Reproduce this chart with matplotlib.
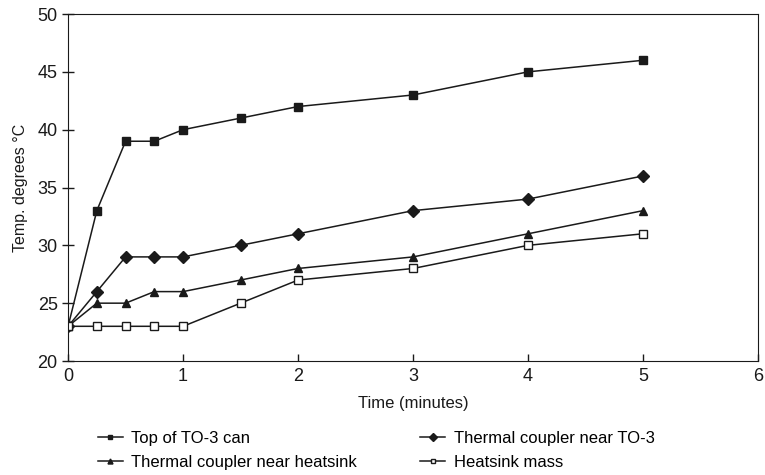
import matplotlib
matplotlib.use("Agg")
import matplotlib.pyplot as plt

plt.rcParams['font.family'] = ['Liberation Sans', 'DejaVu Sans']

time_min = [0, 0.25, 0.5, 0.75, 1, 1.5, 2, 3, 4, 5]
top_can = [23, 33, 39, 39, 40, 41, 42, 43, 45, 46]
near_to3 = [23, 26, 29, 29, 29, 30, 31, 33, 34, 36]
near_heatsink = [23, 25, 25, 26, 26, 27, 28, 29, 31, 33]
heatsink_mass = [23, 23, 23, 23, 23, 25, 27, 28, 30, 31]

fig = plt.figure(figsize=(7.65, 4.75), dpi=100)
ax = fig.add_axes([0.089, 0.24, 0.902, 0.7305])

c = '#1a1a1a'
l1, = ax.plot(time_min, top_can, '-s', color=c, lw=1.1, ms=6, label='Top of TO-3 can')
l2, = ax.plot(time_min, near_to3, '-D', color=c, lw=1.1, ms=6.5, label='Thermal coupler near TO-3')
l3, = ax.plot(time_min, near_heatsink, '-^', color=c, lw=1.1, ms=6, label='Thermal coupler near heatsink')
l4, = ax.plot(time_min, heatsink_mass, '-s', color=c, lw=1.1, ms=6, mfc='white', mew=1,
              label='Heatsink mass')

ax.set_xlim(0, 6)
ax.set_ylim(20, 50)
ax.set_xticks(range(0, 7))
ax.set_yticks(range(20, 51, 5))
ax.tick_params(labelsize=13, colors=c, length=5, width=1)
ax.tick_params(axis='x', direction='in', pad=5)
ax.tick_params(axis='y', direction='inout', length=8)
for s in ax.spines.values():
    s.set_color(c)
ax.set_xlabel('Time (minutes)', fontsize=12, color=c, labelpad=8)
ax.set_ylabel('Temp. degrees °C', fontsize=11.5, color=c, labelpad=7)

# column-wise fill, so order gives rows: top / near TO-3, near heatsink / mass
fig.legend([l1, l3, l2, l4], [l.get_label() for l in [l1, l3, l2, l4]],
           loc='upper left', bbox_to_anchor=(0.117, 0.111), ncol=2, frameon=False,
           fontsize=12, borderpad=0, handlelength=1.5, handletextpad=0.5,
           columnspacing=3.8, labelspacing=0.55, markerscale=0.6)

fig.savefig('out.png', dpi=100)
